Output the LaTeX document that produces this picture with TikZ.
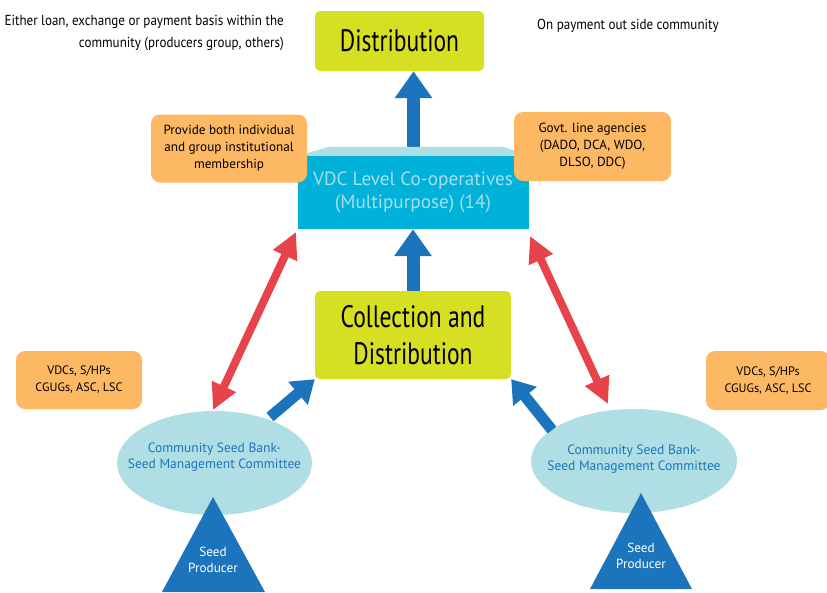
\documentclass[tikz,border=0pt]{standalone}
\usepackage{fontspec}
\setmainfont{PT Sans}
\newfontfamily\condfont[FakeStretch=0.9]{PT Sans}
\newfontfamily\bigcondfont[FakeStretch=0.76]{PT Sans}
\usetikzlibrary{arrows.meta,shapes.geometric}
\definecolor{ygreen}{HTML}{D7DF23}
\definecolor{cyanbox}{HTML}{00B2DA}
\definecolor{cyantop}{HTML}{AEDFE5}
\definecolor{orangebox}{HTML}{FDB863}
\definecolor{lightell}{HTML}{AFDFE4}
\definecolor{bluedark}{HTML}{1C75BC}
\definecolor{redarr}{HTML}{E6434A}
\definecolor{vdctext}{HTML}{A6DDEA}
\tikzset{
  greenbox/.style={fill=ygreen, rounded corners=5pt, inner sep=0pt, align=center, font=\bigcondfont\fontsize{31}{37}\selectfont},
  orbox/.style={fill=orangebox, rounded corners=9pt, inner sep=0pt, align=center, font=\fontsize{13.2}{17}\selectfont},
  seedtext/.style={inner sep=0pt, align=center, text=bluedark, font=\fontsize{13.5}{16.5}\selectfont},
  bluearrow/.style={draw=bluedark, line width=13pt, -{Triangle[width=36pt,length=27pt]}},
  diagarrow/.style={draw=bluedark, line width=11pt, -{Triangle[width=29pt,length=22pt]}},
  redarrow/.style={draw=redarr, line width=8pt, {Triangle[width=25pt,length=26pt]}-{Triangle[width=25pt,length=26pt]}},
  notetext/.style={inner sep=0pt, font=\condfont\fontsize{14.5}{22}\selectfont},
  tritext/.style={inner sep=0pt, align=center, text=white, font=\fontsize{13.2}{16}\selectfont}
}
\begin{document}
\begin{tikzpicture}[x=1pt,y=-1pt]
\useasboundingbox (0,0) rectangle (827,592);
% nodes
\node[greenbox, minimum width=169pt, minimum height=60pt] (dist) at (399.5,41) {Distribution};
\node[greenbox, minimum width=196pt, minimum height=88pt] (coll) at (413,335) {Collection and\\Distribution};
\node[notetext, anchor=east, align=right] (leftnote) at (284,33) {Either loan, exchange or payment basis within the\\community (producers group, others)};
\node[notetext, anchor=west] (rightnote) at (537,26) {On payment out side community};
% arrow to distribution (behind VDC box)
\coordinate (vdctop) at (413.5,152);
\draw[bluearrow] (vdctop) -- (vdctop |- dist.south);
% VDC box
\node[fill=cyanbox, minimum width=231pt, minimum height=73pt, inner sep=0pt, align=center, text=vdctext, font=\fontsize{19.2}{23}\selectfont] (vdc) at (413,192.5) {VDC Level Co-operatives\\(Multipurpose) (14)};
\fill[cyantop] (vdc.north west) -- ([xshift=32pt,yshift=9pt]vdc.north west) -- ([xshift=-25pt,yshift=9pt]vdc.north east) -- (vdc.north east) -- cycle;
% orange boxes
\node[orbox, minimum width=156pt, minimum height=68pt] (or1) at (229,148.5) {Provide both individual\\and group institutional\\membership};
\node[orbox, minimum width=157pt, minimum height=69pt] (or2) at (592.5,146.5) {Govt. line agencies\\(DADO, DCA, WDO,\\DLSO, DDC)};
\node[orbox, minimum width=126pt, minimum height=58pt, font=\fontsize{12.2}{17}\selectfont] (or3) at (79,380) {VDCs, S/HPs\\CGUGs, ASC, LSC};
\node[orbox, minimum width=124pt, minimum height=59pt, font=\fontsize{12.2}{17}\selectfont] (or4) at (768,380.5) {VDCs, S/HPs\\CGUGs, ASC, LSC};
% ellipses
\fill[lightell] (214.5,463) ellipse [x radius=97.5pt, y radius=52pt];
\fill[lightell] (634,461) ellipse [x radius=103pt, y radius=52pt];
\node[seedtext] (cs1) at (214.5,457) {Community Seed Bank-\\Seed Management Committee};
\node[seedtext] (cs2) at (634,459) {Community Seed Bank-\\Seed Management Committee};
% triangles
\fill[bluedark] (213,497) -- (265,592) -- (162,592) -- cycle;
\fill[bluedark] (641,493) -- (692,589) -- (590,589) -- cycle;
\node[tritext] (sp1) at (213,560) {Seed\\Producer};
\node[tritext] (sp2) at (641,556) {Seed\\Producer};
% vertical arrow collection -> VDC
\draw[bluearrow] (coll.north) -- (vdc.south);
% diagonal blue arrows
\coordinate (cs1tail) at (270,417);
\coordinate (cs2tail) at (552,430);
\draw[diagarrow] (cs1tail) -- (coll.south west);
\draw[diagarrow] (cs2tail) -- (coll.south east);
% red double arrows
\coordinate (r1a) at (296,232);
\coordinate (r1b) at (213,410);
\coordinate (r2a) at (530,236);
\coordinate (r2b) at (608,404);
\draw[redarrow] (r1a) -- (r1b);
\draw[redarrow] (r2a) -- (r2b);
\end{tikzpicture}
\end{document}
